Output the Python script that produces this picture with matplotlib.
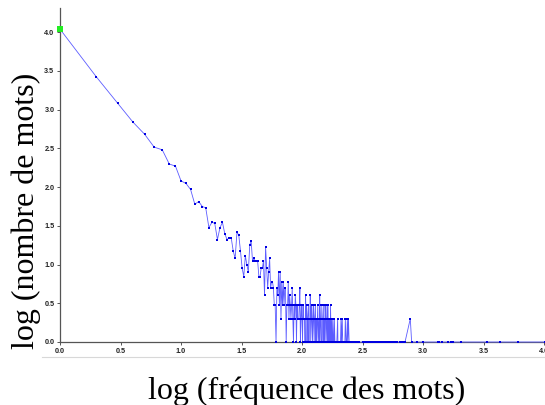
import numpy as np
import matplotlib
matplotlib.use("Agg")
import matplotlib.pyplot as plt
from matplotlib.lines import Line2D

# number of words having frequency k, for k = 1..60
counts_head = [10900, 2630, 1200, 690, 480, 327, 302, 198, 186, 120,
               111, 93, 60, 65, 56, 54, 30, 35, 34, 21,
               30, 35, 25, 21, 22, 22, 15, 12, 26, 24,
               15, 9, 7, 13, 10, 8, 18, 20, 11, 12,
               11, 11, 11, 7, 7, 9, 9, 11, 4, 17,
               9, 5, 8, 12, 5, 6, 6, 5, 3, 3]

# k = 61..250 (0 = no word with that frequency)
counts_mid = [1, 5, 4, 8, 3, 8, 2, 6, 3, 6,
              3, 5, 5, 1, 3, 3, 6, 2, 4, 3,
              2, 3, 5, 2, 1, 3, 2, 4, 3, 1,
              3, 2, 0, 2, 3, 5, 1, 2, 3, 2,
              1, 3, 2, 0, 2, 1, 4, 2, 3, 1,
              2, 0, 3, 1, 2, 2, 4, 1, 0, 3,
              2, 1, 0, 3, 2, 1, 2, 0, 3, 1,
              2, 1, 0, 2, 3, 1, 0, 2, 1, 4,
              1, 0, 2, 3, 1, 0, 1, 2, 0, 3,
              1, 2, 0, 1, 3, 0, 2, 1, 0, 2,
              3, 1, 0, 3, 1, 2, 0, 1, 2, 0,
              1, 3, 0, 1, 0, 2, 1, 0, 1, 2,
              0, 1, 0, 1, 2, 0, 1, 0, 0, 1,
              0, 1, 0, 1, 0, 0, 2, 1, 0, 1,
              0, 0, 1, 0, 1, 0, 0, 1, 0, 2,
              0, 1, 0, 0, 2, 0, 1, 0, 0, 1,
              0, 0, 1, 0, 0, 1, 0, 2, 0, 0,
              1, 0, 0, 1, 0, 0, 2, 0, 1, 0,
              0, 2, 0, 0, 1, 0, 0, 1, 0, 0]

# high frequencies, rarely reached
tail_freq = [253, 257, 262, 266, 270, 275, 280, 286, 291, 297,
             318, 325, 332, 340, 347, 355, 362, 370, 380, 390,
             402, 414, 426, 440, 455, 470, 486, 503, 522, 545,
             566, 590, 615, 645, 675, 690, 710, 785, 805, 897,
             1007, 1334, 1360, 1435, 1622, 1700, 1778, 2061, 3357, 4325,
             6138, 10186]
tail_count = [1] * 37 + [2] + [1] * 14

freq = list(range(1, 61)) + list(range(61, 251)) + tail_freq
count = counts_head + counts_mid + tail_count
pairs = [(f, c) for f, c in zip(freq, count) if c > 0]
x = np.log10([p[0] for p in pairs])
y = np.log10([p[1] for p in pairs])

fig = plt.figure(figsize=(5.45, 4.05), dpi=100)
ax = fig.add_axes([60 / 545, 1 - 342 / 405, 485 / 545, 334 / 405])

ax.plot(x, y, color="#5c5cff", lw=0.6, marker="s", ms=1.9,
        mfc="#0000e0", mec="#0000e0", mew=0, clip_on=False, zorder=3)
ax.plot(x[:1], y[:1], "s", color="#22ee22", ms=5, mew=0, clip_on=False, zorder=4)

ax.set_xlim(0, 4.008)
ax.set_ylim(0, 4.31)
ticks = np.arange(0, 4.01, 0.5)
ax.set_xticks(ticks)
ax.set_yticks(ticks)
ax.set_xticklabels([f"{v:.1f}" for v in ticks])
ax.set_yticklabels([f"{v:.1f}" for v in ticks])
for lab in ax.get_xticklabels() + ax.get_yticklabels():
    lab.set_fontfamily("Liberation Sans")
    lab.set_fontweight("bold")
    lab.set_fontsize(5.2)
    lab.set_color("#222222")
ax.tick_params(length=2.5, width=0.7, color="#555555", pad=1.5)

for s in ["top", "right"]:
    ax.spines[s].set_visible(False)
for s in ["left", "bottom"]:
    ax.spines[s].set_color("#555555")
    ax.spines[s].set_linewidth(0.9)

fig.add_artist(Line2D([42 / 545, 1], [1 - 357 / 405] * 2,
                      transform=fig.transFigure, color="#d8d8d8", lw=0.8))

fig.text(307 / 545, 1 - 391 / 405, "log (fréquence des mots)",
         family="Liberation Serif", fontsize=23, ha="center", va="center")
fig.text(26 / 545, 1 - 211 / 405, "log (nombre de mots)",
         family="Liberation Serif", fontsize=23, ha="center", va="center",
         rotation=90)

fig.savefig("out.png", dpi=100)
